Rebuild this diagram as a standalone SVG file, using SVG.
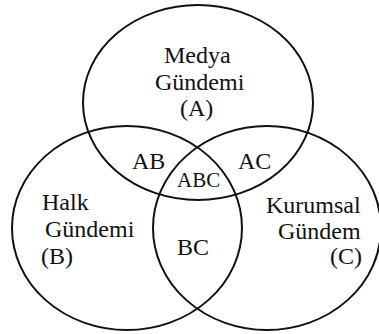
<svg xmlns="http://www.w3.org/2000/svg" width="379" height="334" viewBox="0 0 379 334" font-family="Liberation Serif, Times New Roman, serif">
  <style>
    .set { fill: none; stroke: #111; stroke-width: 2; }
    .lbl { font-family: "Liberation Serif", "Times New Roman", serif; font-size: 24px; fill: #111; }
    .small { font-size: 21px; }
  </style>
  <rect width="379" height="334" fill="#fff"/>

  <!-- Set A: media agenda -->
  <g id="set-a">
    <ellipse class="set" cx="198" cy="102.5" rx="115" ry="97.5"/>
    <text class="lbl" x="164" y="63">Medya</text>
    <text class="lbl" x="155" y="90">Gündemi</text>
    <text class="lbl" x="180" y="116">(A)</text>
  </g>

  <!-- Set B: public agenda -->
  <g id="set-b">
    <ellipse class="set" cx="127" cy="228" rx="115" ry="102"/>
    <text class="lbl" x="42" y="210">Halk</text>
    <text class="lbl" x="45" y="237">Gündemi</text>
    <text class="lbl" x="41" y="264">(B)</text>
  </g>

  <!-- Set C: institutional agenda -->
  <g id="set-c">
    <ellipse class="set" cx="267" cy="228" rx="114" ry="102"/>
    <text class="lbl" x="266" y="213">Kurumsal</text>
    <text class="lbl" x="278" y="239">Gündem</text>
    <text class="lbl" x="330" y="264">(C)</text>
  </g>

  <!-- Overlap labels -->
  <g id="overlap-ab"><text class="lbl" x="132" y="169">AB</text></g>
  <g id="overlap-ac"><text class="lbl" x="238" y="169">AC</text></g>
  <g id="overlap-abc"><text class="lbl small" x="177" y="187">ABC</text></g>
  <g id="overlap-bc"><text class="lbl" x="177" y="255">BC</text></g>
</svg>
